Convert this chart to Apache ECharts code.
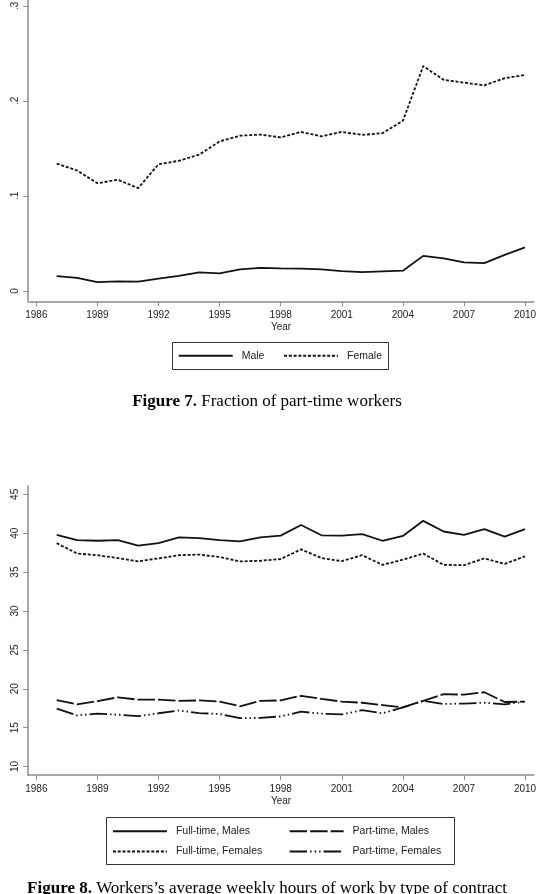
<!DOCTYPE html>
<html>
<head>
<meta charset="utf-8">
<script src="https://cdn.jsdelivr.net/npm/echarts@6.0.0/dist/echarts.min.js"></script>
<style>
  html, body { margin: 0; padding: 0; background: #fff; }
  #main { width: 540px; height: 894px; }
</style>
</head>
<body>
<div id="main"></div>
<script>
// years shared by both figures
var years = [1987, 1988, 1989, 1990, 1991, 1992, 1993, 1994, 1995, 1996, 1997, 1998,
             1999, 2000, 2001, 2002, 2003, 2004, 2005, 2006, 2007, 2008, 2009, 2010];
var yearTicks = [1986, 1989, 1992, 1995, 1998, 2001, 2004, 2007, 2010];

// Figure 7: fraction of part-time workers
var fracTicks = [0, 0.1, 0.2, 0.3];
var male = [0.0156, 0.0138, 0.0094, 0.0101, 0.0098, 0.0130, 0.0159, 0.0196, 0.0185, 0.0228, 0.0243, 0.0239,
            0.0236, 0.0228, 0.0210, 0.0199, 0.0207, 0.0214, 0.0370, 0.0344, 0.0301, 0.0294, 0.0381, 0.0460];
var female = [0.1341, 0.1268, 0.1134, 0.1170, 0.1083, 0.1333, 0.1370, 0.1435, 0.1573, 0.1634, 0.1645, 0.1616,
              0.1674, 0.1627, 0.1674, 0.1642, 0.1660, 0.1790, 0.2366, 0.2221, 0.2192, 0.2163, 0.2239, 0.2272];

// Figure 8: average weekly hours
var hourTicks = [10, 15, 20, 25, 30, 35, 40, 45];
var ftMales = [39.78, 39.11, 39.03, 39.11, 38.41, 38.72, 39.47, 39.38, 39.11, 38.94, 39.47, 39.69,
               41.06, 39.73, 39.69, 39.87, 39.03, 39.65, 41.59, 40.22, 39.78, 40.53, 39.56, 40.53];
var ftFemales = [38.72, 37.39, 37.17, 36.81, 36.37, 36.77, 37.17, 37.25, 36.94, 36.37, 36.46, 36.68,
                 37.92, 36.81, 36.41, 37.17, 35.93, 36.59, 37.39, 35.93, 35.88, 36.77, 36.06, 37.03];
var ptMales = [18.55, 18.0, 18.4, 18.9, 18.6, 18.6, 18.45, 18.5, 18.35, 17.75, 18.45, 18.5,
               19.1, 18.7, 18.35, 18.2, 17.9, 17.6, 18.45, 19.3, 19.25, 19.55, 18.3, 18.35];
var ptFemales = [17.45, 16.58, 16.8, 16.67, 16.47, 16.85, 17.2, 16.88, 16.75, 16.22, 16.25, 16.45,
                 17.05, 16.8, 16.7, 17.25, 16.85, 17.6, 18.45, 18.05, 18.1, 18.2, 18.0, 18.35];

function pairs(vals) {
  return years.map(function (y, i) { return [y, vals[i]]; });
}

var FONT = 'Liberation Sans';
var axisGray = '#8c8c8c';
var ink = '#111';

function xAxisCfg(idx) {
  return {
    type: 'value', gridIndex: idx, min: 1985.6, max: 2010.44,
    name: 'Year', nameLocation: 'middle', nameGap: 21,
    nameTextStyle: { fontFamily: FONT, fontSize: 10, color: '#222' },
    axisLine: { onZero: false, lineStyle: { color: axisGray, width: 1.5 } },
    axisTick: { show: true, length: 5, lineStyle: { color: axisGray, width: 1 }, customValues: yearTicks },
    axisLabel: { fontFamily: FONT, fontSize: 10, color: '#222', margin: 9, customValues: yearTicks,
                 formatter: function (v) { return String(v); } },
    splitLine: { show: false }
  };
}

function yAxisCfg(idx, min, max, ticks, fmt) {
  return {
    type: 'value', gridIndex: idx, min: min, max: max,
    axisLine: { show: true, onZero: false, lineStyle: { color: axisGray, width: 1.5 } },
    axisTick: { show: true, length: 5, lineStyle: { color: axisGray, width: 1 }, customValues: ticks },
    axisLabel: { fontFamily: FONT, fontSize: 10, color: '#222', rotate: 90, margin: 8,
                 customValues: ticks, formatter: fmt },
    splitLine: { show: false }
  };
}

function lineSeries(name, vals, idx, type) {
  return {
    name: name, type: 'line', xAxisIndex: idx, yAxisIndex: idx,
    data: pairs(vals), symbol: 'none', smooth: false, animation: false,
    lineStyle: { color: ink, width: 1.8, type: type },
    itemStyle: { color: ink }
  };
}

function legendCfg(names, left, top) {
  return {
    data: names, left: left, top: top, orient: 'vertical', padding: 0,
    itemWidth: 54, itemHeight: 12, itemGap: 8.3,
    selectedMode: false,
    itemStyle: { color: 'rgba(0,0,0,0)', borderWidth: 0, opacity: 0 },
    textStyle: { fontFamily: FONT, fontSize: 10.5, color: '#222', padding: [0, 0, 0, 4], lineHeight: 12 }
  };
}

var shortDash = [3, 1.8];
var longDash = [17.5, 3];
var dashDotDot = [17.5, 3, 1.5, 3, 1.5, 3, 1.5, 3];

var chart = echarts.init(document.getElementById('main'), null, { renderer: 'canvas' });
chart.setOption({
  backgroundColor: '#fff',
  animation: false,
  grid: [
    { left: 28.2, top: 0, width: 505.8, height: 301.3, outerBoundsMode: 'none' },
    { left: 28.2, top: 486, width: 505.8, height: 289.1, outerBoundsMode: 'none' }
  ],
  xAxis: [xAxisCfg(0), xAxisCfg(1)],
  yAxis: [
    yAxisCfg(0, -0.0108, 0.3061, fracTicks, function (v) {
      return v === 0 ? '0' : String(v).replace(/^0/, '');
    }),
    yAxisCfg(1, 8.9, 46.07, hourTicks, function (v) { return String(v); })
  ],
  legend: [
    legendCfg(['Male'], 177.7, 349.7),
    legendCfg(['Female'], 283, 349.7),
    legendCfg(['Full-time, Males', 'Full-time, Females'], 111.9, 825.2),
    legendCfg(['Part-time, Males', 'Part-time, Females'], 288.6, 825.2)
  ],
  series: [
    lineSeries('Male', male, 0, 'solid'),
    lineSeries('Female', female, 0, shortDash),
    lineSeries('Full-time, Males', ftMales, 1, 'solid'),
    lineSeries('Full-time, Females', ftFemales, 1, shortDash),
    lineSeries('Part-time, Males', ptMales, 1, longDash),
    lineSeries('Part-time, Females', ptFemales, 1, dashDotDot)
  ],
  graphic: [
    // legend frames
    { type: 'rect', shape: { x: 172.5, y: 342.5, width: 216, height: 27 },
      style: { fill: 'none', stroke: '#333', lineWidth: 1 } },
    { type: 'rect', shape: { x: 106.5, y: 817.5, width: 348, height: 47 },
      style: { fill: 'none', stroke: '#333', lineWidth: 1 } },
    // captions
    { type: 'text', x: 267, y: 401.8,
      style: { text: '{b|Figure 7.} Fraction of part-time workers',
               rich: { b: { fontWeight: 'bold', fontFamily: 'Liberation Serif', fontSize: 17 } },
               fontFamily: 'Liberation Serif', fontSize: 17, fill: '#000',
               align: 'center', verticalAlign: 'middle' } },
    { type: 'text', x: 267, y: 889,
      style: { text: '{b|Figure 8.} Workers\u2019s average weekly hours of work by type of contract',
               rich: { b: { fontWeight: 'bold', fontFamily: 'Liberation Serif', fontSize: 17 } },
               fontFamily: 'Liberation Serif', fontSize: 17, fill: '#000',
               align: 'center', verticalAlign: 'middle' } }
  ]
});
window.onresize = function () { chart.resize(); };
</script>
</body>
</html>
